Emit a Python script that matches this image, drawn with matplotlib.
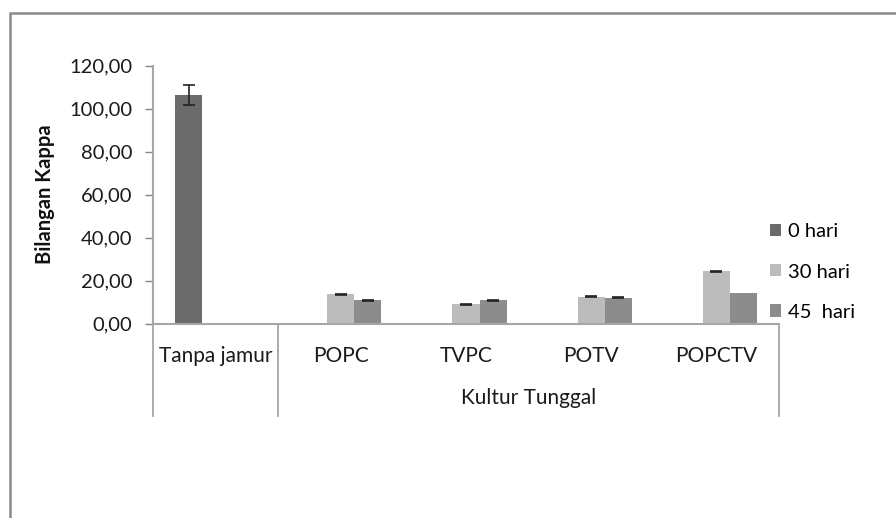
import numpy as np
import matplotlib
matplotlib.use("Agg")
import matplotlib.pyplot as plt
from matplotlib.patches import Rectangle
import matplotlib.transforms as mtransforms

plt.rcParams['font.family'] = ['Lato', 'DejaVu Sans']

categories = ["Tanpa jamur", "POPC", "TVPC", "POTV", "POPCTV"]
group_label = "Kultur Tunggal"
series = ["0 hari", "30 hari", "45  hari"]
colors = ["#6b6b6b", "#bcbcbc", "#8c8c8c"]

# nan = no bar
hari0 = [106.3, np.nan, np.nan, np.nan, np.nan]
hari30 = [np.nan, 13.6, 8.9, 12.5, 24.3]
hari45 = [np.nan, 10.9, 10.8, 11.9, 14.0]
err0 = [4.6, 0, 0, 0, 0]
err30 = [0, 0.25, 0.25, 0.25, 0.25]
err45 = [0, 0.25, 0.25, 0.25, 0]

values = [hari0, hari30, hari45]
errors = [err0, err30, err45]
yticks = [0, 20, 40, 60, 80, 100, 120]

W, H = 896, 518
fig = plt.figure(figsize=(W / 100, H / 100), dpi=100)
ax = fig.add_axes([153 / W, 1 - 323.5 / H, (779 - 153) / W, (323.5 - 65.5) / H])

x = np.arange(len(categories))
bw = 0.216
for i, (vals, errs) in enumerate(zip(values, errors)):
    pos = x + (i - 1) * bw
    v = np.array(vals, dtype=float)
    e = np.array(errs, dtype=float)
    ax.bar(pos, v, width=bw, color=colors[i], label=series[i], zorder=2)
    m = ~np.isnan(v) & (e > 0)
    ax.errorbar(pos[m], v[m], yerr=e[m], fmt="none", ecolor="#222222",
                elinewidth=1.2, capsize=4, capthick=1.2, zorder=3)

ax.set_xlim(-0.5, len(categories) - 0.5)
ax.set_ylim(0, 120)
ax.set_yticks(yticks)
ax.set_yticklabels(["{:.2f}".format(t).replace(".", ",") for t in yticks],
                   fontsize=14.5, color="#1a1a1a")
ax.tick_params(axis="y", direction="out", length=6, color="#868686", width=1, pad=9)
ax.set_xticks([])
for s in ["top", "right"]:
    ax.spines[s].set_visible(False)
for s in ["left", "bottom"]:
    ax.spines[s].set_color("#a6a6a6")
    ax.spines[s].set_linewidth(1.5)
ax.set_ylabel("Bilangan Kappa", fontsize=14.5, fontweight="bold", labelpad=10,
              color="#111111")

# multi-level category axis
trans = mtransforms.blended_transform_factory(ax.transData, ax.transAxes)
px = 1.0 / (323.5 - 65.5)
for b in [-0.5, 0.5, len(categories) - 0.5]:
    ax.plot([b, b], [0, -92 * px], transform=trans, color="#a6a6a6",
            lw=1.3, clip_on=False)
for xi, c in zip(x, categories):
    ax.text(xi, -33 * px, c, transform=trans, ha="center", va="center",
            fontsize=15, color="#1a1a1a")
ax.text((0.5 + len(categories) - 0.5) / 2, -75 * px, group_label, transform=trans,
        ha="center", va="center", fontsize=15, color="#1a1a1a")

fig.legend(loc="center left", bbox_to_anchor=(752 / W, 1 - 272 / H), frameon=False,
           fontsize=14.5, handlelength=0.55, handleheight=0.55, handletextpad=0.35,
           labelspacing=1.15)

# outer chart frame
fig.patches.append(Rectangle((10 / W, -0.2), 1.2, 1 - 13 / H + 0.2,
                             transform=fig.transFigure, fill=False,
                             edgecolor="#8a8a8a", lw=1.8))

fig.savefig("out.png", dpi=100)
